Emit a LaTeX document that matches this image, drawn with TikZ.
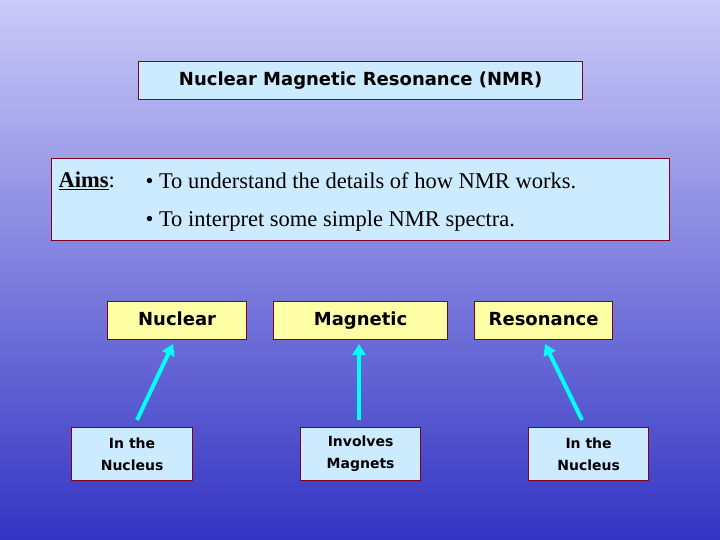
\documentclass[tikz,border=0pt]{standalone}
\usepackage{fontspec}
\setmainfont{Liberation Serif}
\newfontfamily\comic{DejaVu Sans}
\usetikzlibrary{arrows.meta}
\definecolor{bgtop}{HTML}{CACAF8}
\definecolor{bgbot}{HTML}{3434C4}
\definecolor{bord}{HTML}{800020}
\definecolor{lblue}{HTML}{CCEBFF}
\definecolor{lyel}{HTML}{FFFFA6}
\definecolor{arrc}{HTML}{00FFFF}
\begin{document}
\begin{tikzpicture}[x=1pt,y=-1pt,
  box/.style={draw=bord,line width=1.2pt,inner sep=0pt,anchor=north west},
  big/.style={font=\comic\bfseries\fontsize{18}{21}\selectfont,text height=13pt,text depth=4pt},
  small/.style={font=\comic\bfseries\fontsize{14}{22}\selectfont},
  serif/.style={font=\fontsize{22.5}{26}\selectfont},
  arr/.style={draw=arrc,line width=4pt,-{Triangle[length=11pt,width=13pt]}}]
\shade[top color=bgtop,bottom color=bgbot] (0,0) rectangle (720,540);
\useasboundingbox (0,0) rectangle (720,540);
\node[box,big,fill=lblue,minimum width=444pt,minimum height=38pt] (title) at (138,61)
  {Nuclear Magnetic Resonance (NMR)};
\node[box,fill=lblue,minimum width=618pt,minimum height=82pt] (aims) at (51,158) {};
\node[anchor=west,serif] (aimslbl) at (55,181) {\underline{\textbf{Aims}}:};
\node[anchor=west,serif] (a1) at (142,181) {\textbullet\ To understand the details of how NMR works.};
\node[anchor=west,serif] (a2) at (142,221) {\textbullet\ To interpret some simple NMR spectra.};
\node[box,big,fill=lyel,minimum width=139pt,minimum height=38pt] (n1) at (107,301) {Nuclear};
\node[box,big,fill=lyel,minimum width=174pt,minimum height=38pt] (n2) at (273,301) {Magnetic};
\node[box,big,fill=lyel,minimum width=138pt,minimum height=38pt] (n3) at (474,301) {Resonance};
\node[box,small,fill=lblue,minimum width=121pt,minimum height=53pt,align=center] (b1) at (71,427) {In the\\Nucleus};
\node[box,small,fill=lblue,minimum width=120pt,minimum height=53pt,align=center] (b2) at (300,427) {Involves\\Magnets};
\node[box,small,fill=lblue,minimum width=120pt,minimum height=53pt,align=center] (b3) at (528,427) {In the\\Nucleus};
\coordinate (s1) at (137,420); \coordinate (e1) at (173,344);
\coordinate (s2) at (359,420); \coordinate (e2) at (359,344);
\coordinate (s3) at (582,420); \coordinate (e3) at (545,344);
\draw[arr] (s1) -- (e1);
\draw[arr] (s2) -- (e2);
\draw[arr] (s3) -- (e3);
\end{tikzpicture}
\end{document}
